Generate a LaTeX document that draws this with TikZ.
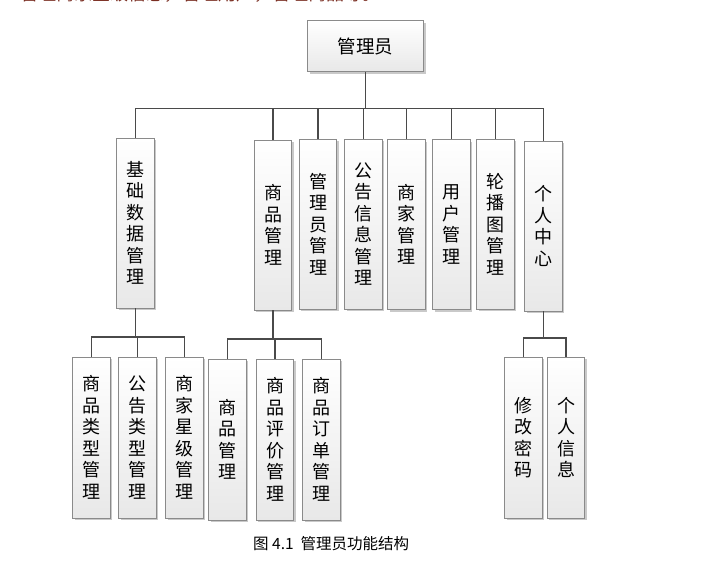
\documentclass[tikz,border=0pt]{standalone}
\usepackage{fontspec}
\newfontfamily\cjk{Noto Sans CJK SC}
\usetikzlibrary{shadows}
\definecolor{boxline}{HTML}{8A8A8A}
\definecolor{connline}{HTML}{4A4A4A}
\definecolor{toptext}{HTML}{7A2E22}
\tikzset{
  box/.style={draw=boxline, line width=0.9pt, top color=white, bottom color=black!9,
    minimum width=37.5pt, inner sep=0pt, align=center,
    font=\cjk\fontsize{18}{21.5}\selectfont,
    drop shadow={shadow xshift=2pt, shadow yshift=-2pt, fill=black!35, opacity=0.6}},
  lvtwo/.style={box, minimum height=170pt},
  lvthree/.style={box, minimum height=161pt},
  conn/.style={draw=connline, line width=1.4pt}
}
\begin{document}
\begin{tikzpicture}[x=1pt,y=-1pt]
\useasboundingbox (0,0) rectangle (725,570);
\fill[white] (0,0) rectangle (725,570);
% cut-off body text at the top
\node[anchor=base west, inner sep=0pt, text=toptext, font=\cjk\fontsize{18}{20}\selectfont] (toptxt) at (20,1) {管理商家星级信息，管理用户，管理商品等。};
% root
\node[box, minimum width=116pt, minimum height=51pt, font=\cjk\fontsize{18.5}{20}\selectfont] (root) at (365.5,46) {管理员};
% level 2
\node[lvtwo] (A) at (135.5,223) {基\\础\\数\\据\\管\\理};
\node[lvtwo] (B) at (273,225) {商\\品\\管\\理};
\node[lvtwo] (C) at (318,224) {管\\理\\员\\管\\理};
\node[lvtwo] (D) at (363.5,224) {公\\告\\信\\息\\管\\理};
\node[lvtwo] (E) at (406.5,224.5) {商\\家\\管\\理};
\node[lvtwo] (F) at (451.5,224.5) {用\\户\\管\\理};
\node[lvtwo] (G) at (495.5,224) {轮\\播\\图\\管\\理};
\node[lvtwo] (H) at (543.5,226) {个\\人\\中\\心};
% level 3
\node[lvthree] (A1) at (91.5,437.5) {商\\品\\类\\型\\管\\理};
\node[lvthree] (A2) at (137.5,437.5) {公\\告\\类\\型\\管\\理};
\node[lvthree] (A3) at (184.5,437.5) {商\\家\\星\\级\\管\\理};
\node[lvthree] (B1) at (227.5,439.5) {商\\品\\管\\理};
\node[lvthree] (B2) at (275,439.5) {商\\品\\评\\价\\管\\理};
\node[lvthree] (B3) at (321.5,439.5) {商\\品\\订\\单\\管\\理};
\node[lvthree] (H1) at (523.5,437.5) {修\\改\\密\\码};
\node[lvthree] (H2) at (566,437.5) {个\\人\\信\\息};
% bus coordinates
\coordinate (bus0) at (0,108.5);
\coordinate (busA) at (0,337);
\coordinate (busB) at (0,339);
\coordinate (busH) at (0,338);
% connectors level 1 -> 2
\draw[conn] (root.south) -- (root.south |- bus0);
\draw[conn] (A.north) -- (A.north |- bus0) -- (H.north |- bus0) -- (H.north);
\foreach \n in {B,C,D,E,F,G} \draw[conn] (\n.north) -- (\n.north |- bus0);
% connectors level 2 -> 3
\draw[conn] (A.south) -- (A.south |- busA);
\draw[conn] (A1.north) -- (A1.north |- busA) -- (A3.north |- busA) -- (A3.north);
\draw[conn] (A2.north) -- (A2.north |- busA);
\draw[conn] (B.south) -- (B.south |- busB);
\draw[conn] (B1.north) -- (B1.north |- busB) -- (B3.north |- busB) -- (B3.north);
\draw[conn] (B2.north) -- (B2.north |- busB);
\draw[conn] (H.south) -- (H.south |- busH);
\draw[conn] (H1.north) -- (H1.north |- busH) -- (H2.north |- busH) -- (H2.north);
% caption
\node[anchor=west, inner sep=0pt, font=\cjk\fontsize{15.5}{17}\selectfont] (cap) at (253,544) {图 4.1\ \ 管理员功能结构};
\end{tikzpicture}
\end{document}
